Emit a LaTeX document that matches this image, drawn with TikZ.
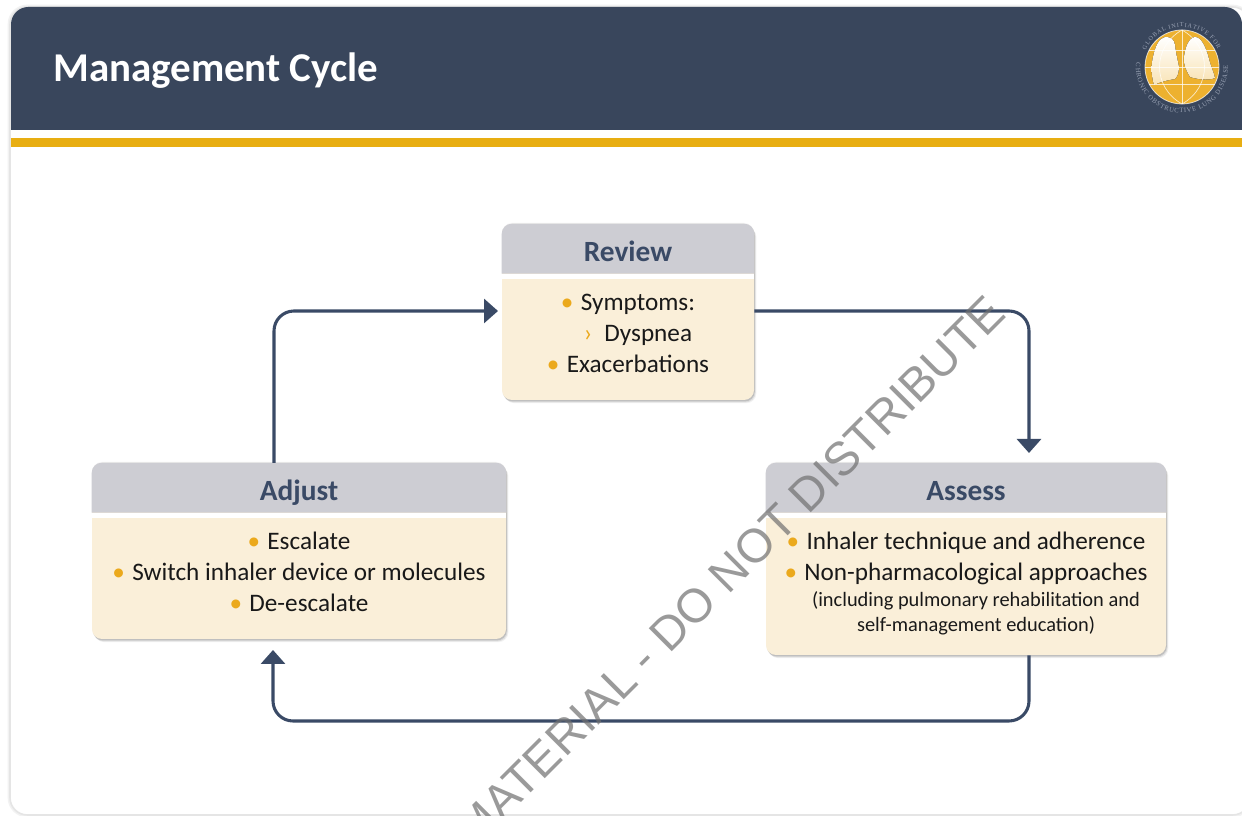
\documentclass[tikz,border=0pt]{standalone}
\usepackage{fontspec}
\setmainfont{Carlito}
\newfontfamily\logofont{Liberation Serif}
\newfontfamily\markfont{Liberation Sans}
\usetikzlibrary{calc}
\usetikzlibrary{arrows.meta}
\usetikzlibrary{shadows}
\usetikzlibrary{decorations.text}
\definecolor{slate_navy}{HTML}{39465C}
\definecolor{arrow_navy}{HTML}{3A4A66}
\definecolor{band_gold}{HTML}{E8AE12}
\definecolor{dot_gold}{HTML}{EBA91C}
\definecolor{head_grey}{HTML}{CDCDD3}
\definecolor{body_cream}{HTML}{FAEFD9}
\definecolor{logo_gold}{HTML}{EDB12F}
\definecolor{logo_text}{HTML}{9AA3B5}
\definecolor{mark_grey}{HTML}{707070}
\newcommand{\golddot}{\textcolor{dot_gold}{\textbullet}\hspace{5.5pt}}
\newcommand{\cardtop}[1]{
	\fill[head_grey] ($(#1.north west) + (0, -50)$) [rounded corners=7.5pt] -- (#1.north west) -- (#1.north east) [sharp corners] -- ($(#1.north east) + (0, -50)$) -- cycle;
	\fill[white] ($(#1.north west) + (0, -50)$) rectangle ($(#1.north east) + (0, -55)$);
}
\tikzset{
	cardbox/.style={fill=body_cream, rounded corners=7.5pt, inner sep=0pt,
		drop shadow={shadow xshift=0pt, shadow yshift=0.8pt, opacity=0.08},
		drop shadow={shadow xshift=1.8pt, shadow yshift=-2.4pt, opacity=0.10},
		drop shadow={shadow xshift=1.2pt, shadow yshift=-1.8pt, opacity=0.18},
		drop shadow={shadow xshift=0.6pt, shadow yshift=-1.1pt, opacity=0.32}},
	headtext/.style={anchor=base, text=arrow_navy, font=\fontsize{22}{26}\selectfont\bfseries},
	bodytext/.style={anchor=base, text=black!90, font=\fontsize{18.9}{22}\selectfont},
	smalltext/.style={anchor=base, text=black!90, font=\fontsize{15.3}{18}\selectfont},
	cycleline/.style={draw=arrow_navy, line width=2.3pt, rounded corners=15pt, -{Triangle[length=10.5pt, width=18pt]}},
	logogrid/.style={white, line width=0.5pt, opacity=0.75},
}
\begin{document}
\begin{tikzpicture}[x=0.75pt, y=0.75pt]
	\useasboundingbox (0, 0) rectangle (1242, 816);
	\fill[white] (0, 0) rectangle (1242, 816);
	\draw[black!5, line width=3.5pt, rounded corners=13pt] (10, 1) rectangle (1250, 809);
	\draw[black!10, line width=1.2pt, fill=white, rounded corners=13pt] (10, 1) rectangle (1250, 809);
	\fill[slate_navy] (11, 686) [rounded corners=13pt] -- (11, 809) -- (1242, 809) [sharp corners] -- (1242, 686) -- cycle;
	\fill[band_gold] (11, 669) rectangle (1242, 678);
	\node[anchor=base west, inner sep=0pt, text=white, font=\fontsize{30.7}{34}\selectfont\bfseries] (title) at (53, 734.5) {Management Cycle};

	\begin{scope}[shift={(1182, 749)}]
		\fill[logo_gold] (0, 0) circle(37);
		\draw[white, line width=0.6pt, opacity=0.7] (0, 0) circle(37);
		\fill[top color=white, bottom color=logo_gold!35] (-17, 30) .. controls (-10, 30) and (-8, 27) .. (-7, 22) .. controls (-6, 12) and (-4, 6) .. (-3, 0) .. controls (-3, -6) and (-5, -10) .. (-7, -12) .. controls (-14, -13) and (-22, -15) .. (-28, -18) .. controls (-31, -8) and (-31, 2) .. (-29, 10) .. controls (-27, 20) and (-23, 29) .. (-17, 30) -- cycle;
		\fill[top color=white, bottom color=logo_gold!35] (13, 30) .. controls (19, 30) and (24, 20) .. (27, 8) .. controls (29, 0) and (32, -6) .. (33, -11) .. controls (26, -14) and (14, -12) .. (8, -10) .. controls (5, -5) and (1, 2) .. (2, 10) .. controls (3, 18) and (6, 29) .. (13, 30) -- cycle;
		\draw[logogrid] (0, -37) -- (0, 37);
		\draw[logogrid] (-37, 0) -- (37, 0);
		\draw[logogrid] (-33, 17) -- (33, 17);
		\draw[logogrid] (-33, -17) -- (33, -17);
		\draw[logogrid] (0, 37) .. controls (-30, 20) and (-30, -20) .. (0, -37);
		\draw[logogrid] (0, 37) .. controls (30, 20) and (30, -20) .. (0, -37);
		\path[decorate, decoration={text along path, text align={fit to path}, text={|\logofont\fontsize{4.6}{6}\selectfont\color{logo_text}|GLOBAL INITIATIVE FOR}}] (155:40) arc[start angle=155, end angle=27, radius=40];
		\path[decorate, decoration={text along path, text align={fit to path}, text={|\logofont\fontsize{5}{6}\selectfont\color{logo_text}|CHRONIC OBSTRUCTIVE LUNG DISEASE}}] (175:46) arc[start angle=175, end angle=362, radius=46];
	\end{scope}

	\node[cardbox, minimum width=189pt, minimum height=132pt] (review) at (628, 504) {};
	\node[cardbox, minimum width=300pt, minimum height=144pt] (assess) at (966, 257) {};
	\node[cardbox, minimum width=310.5pt, minimum height=132pt] (adjust) at (299, 265) {};
	\cardtop{review}
	\cardtop{assess}
	\cardtop{adjust}

	\node[headtext] (review_head) at (628, 554.5) {Review};
	\node[bodytext] (symptoms) at (628, 505) {\golddot Symptoms:};
	\node[bodytext] (dyspnea) at (638, 474) {\textcolor{dot_gold}{›}\hspace{9pt}Dyspnea};
	\node[bodytext] (exacerbations) at (628, 443) {\golddot Exacerbations};

	\node[headtext] (assess_head) at (966, 315.5) {Assess};
	\node[bodytext] (inhaler) at (966, 266) {\golddot Inhaler technique and adherence};
	\node[bodytext] (nonpharm) at (966, 235) {\golddot Non-pharmacological approaches};
	\node[smalltext] (including) at (976, 209.5) {(including pulmonary rehabilitation and};
	\node[smalltext] (selfman) at (976, 184.5) {self-management education)};

	\node[headtext] (adjust_head) at (299, 315.5) {Adjust};
	\node[bodytext] (escalate) at (299, 266) {\golddot Escalate};
	\node[bodytext] (switch) at (299, 235) {\golddot Switch inhaler device or molecules};
	\node[bodytext] (deescalate) at (299, 204) {\golddot De-escalate};

	\coordinate (C1) at (1029, 363);
	\coordinate (C2) at (498, 505);
	\coordinate (C3) at (273, 166);
	\coordinate (D1) at (1029, 161);
	\coordinate (D2) at (274, 353);
	\draw[cycleline] (review.east |- C2) -| (C1);
	\draw[cycleline] (D2) |- (C2);
	\draw[cycleline] (D1 |- assess.south) |- ($(C3) + (0, -71)$) -- (C3);

	\begin{scope}
		\clip (0, 0) rectangle (1242, 816);
		\node[anchor=base east, inner sep=0pt, rotate=45, text=mark_grey, text opacity=0.7, font=\markfont\fontsize{35.5}{40}\selectfont] (watermark) at (1008, 500) {MATERIAL - DO NOT DISTRIBUTE};
	\end{scope}
\end{tikzpicture}
\end{document}
